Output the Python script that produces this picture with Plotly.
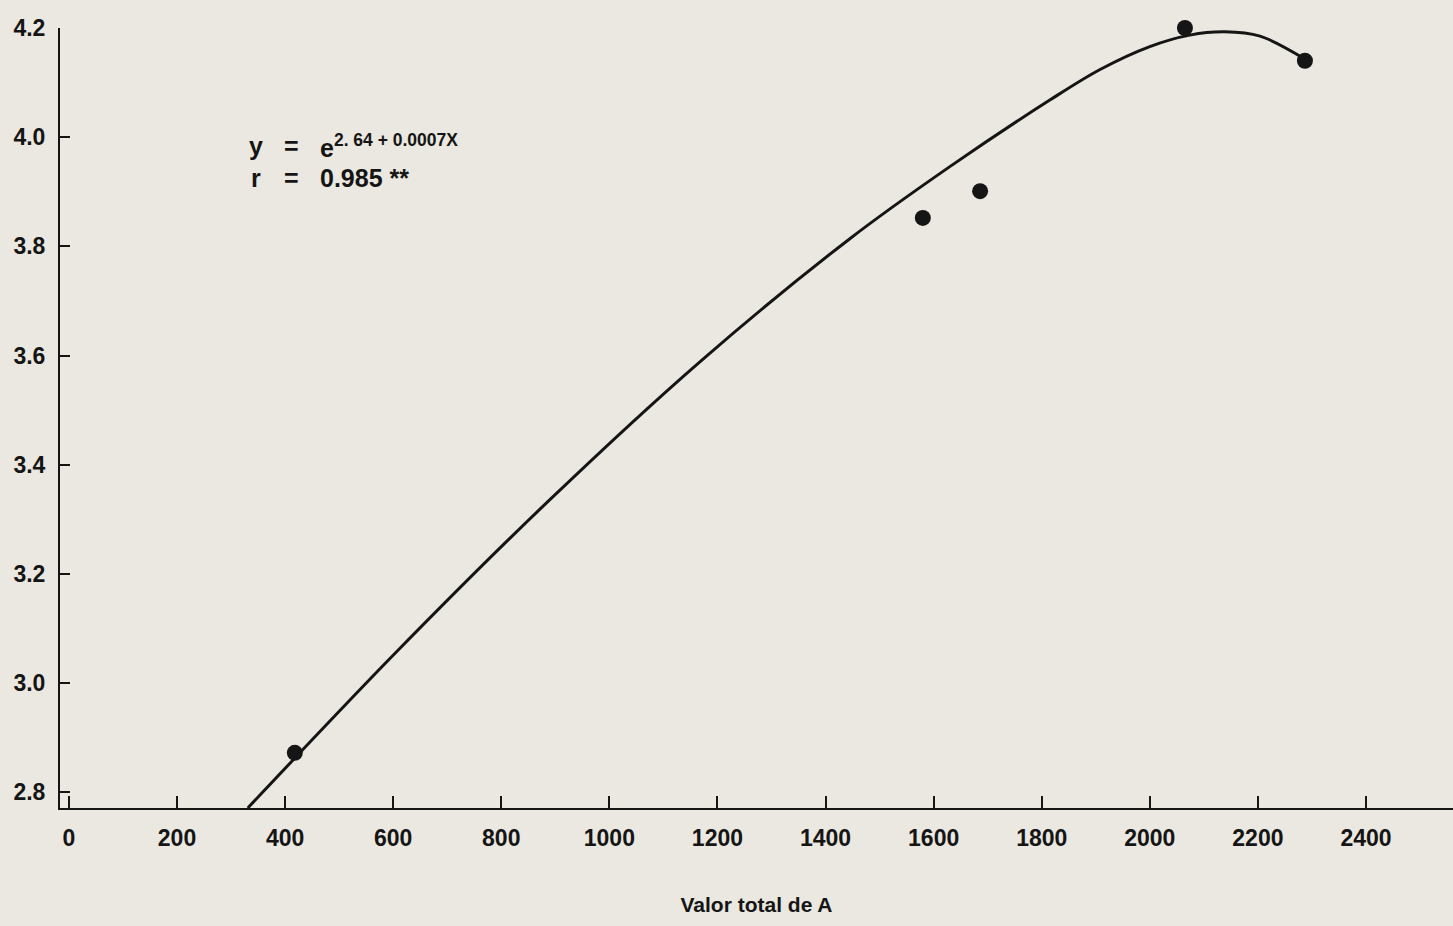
import plotly.graph_objects as go

# Observed data points
obs_x = [418, 1580, 1686, 2065, 2287]
obs_y = [2.872, 3.852, 3.901, 4.200, 4.140]

# Fitted curve
fit_x = [331, 613, 890, 1168, 1445, 1630, 1815, 1908, 2000, 2074, 2139, 2204, 2287]
fit_y = [2.771, 3.064, 3.336, 3.589, 3.814, 3.946, 4.068, 4.124, 4.166, 4.187, 4.193, 4.185, 4.143]

x_ticks = [0, 200, 400, 600, 800, 1000, 1200, 1400, 1600, 1800, 2000, 2200, 2400]
y_ticks = [2.8, 3.0, 3.2, 3.4, 3.6, 3.8, 4.0, 4.2]
y_tick_labels = ["2.8", "3.0", "3.2", "3.4", "3.6", "3.8", "4.0", "4.2"]

x_title = "Valor total de A"
eq_line1 = "e<sup>2. 64 + 0.0007X</sup>"
eq_line2 = "0.985 **"

bg = "#EAE8E0"
ink = "#151515"

fig = go.Figure()
fig.add_trace(go.Scatter(x=fit_x, y=fit_y, mode="lines",
                         line=dict(color=ink, width=3, shape="spline", smoothing=1.0),
                         cliponaxis=False, showlegend=False, hoverinfo="skip"))
fig.add_trace(go.Scatter(x=obs_x, y=obs_y, mode="markers",
                         marker=dict(color=ink, size=16),
                         cliponaxis=False, showlegend=False))

fig.update_layout(
    width=1453, height=926,
    paper_bgcolor=bg, plot_bgcolor=bg,
    margin=dict(l=60, r=0, t=28, b=118),
    font=dict(family="Liberation Sans, Arial, sans-serif", color=ink),
    showlegend=False,
)
fig.update_xaxes(
    range=[-16.5, 2561], tickvals=x_ticks,
    showgrid=False, zeroline=False, showline=True, linecolor=ink, linewidth=2,
    ticks="inside", ticklen=12, tickwidth=1.5, tickcolor=ink,
    tickfont=dict(size=23, weight="bold", color=ink), ticklabelstandoff=8,
    title=dict(text=x_title, font=dict(size=21, weight="bold"), standoff=48),
)
fig.update_yaxes(
    range=[2.771, 4.2], tickvals=y_ticks, ticktext=y_tick_labels,
    showgrid=False, zeroline=False, showline=True, linecolor=ink, linewidth=2,
    ticks="inside", ticklen=10, tickwidth=1.5, tickcolor=ink,
    tickfont=dict(size=23, weight="bold", color=ink), ticklabelstandoff=8,
)

ann_font = dict(size=25, color=ink, weight="bold", family="Liberation Sans, Arial")
for txt, xp, row in [("y", 247, 146), ("=", 282, 146), (eq_line1, 318, 146),
                     ("r", 249, 178), ("=", 282, 178), (eq_line2, 318, 178)]:
    fig.add_annotation(text=txt, xref="paper", yref="paper",
                       x=(xp - 60) / 1393, y=1 - (row - 28) / 780,
                       xanchor="left", yanchor="middle", showarrow=False, font=ann_font)

fig.write_html("out.html", config={"displayModeBar": False},
               post_script="document.body.style.margin='0';document.body.style.padding='0';document.body.style.overflow='hidden';")
